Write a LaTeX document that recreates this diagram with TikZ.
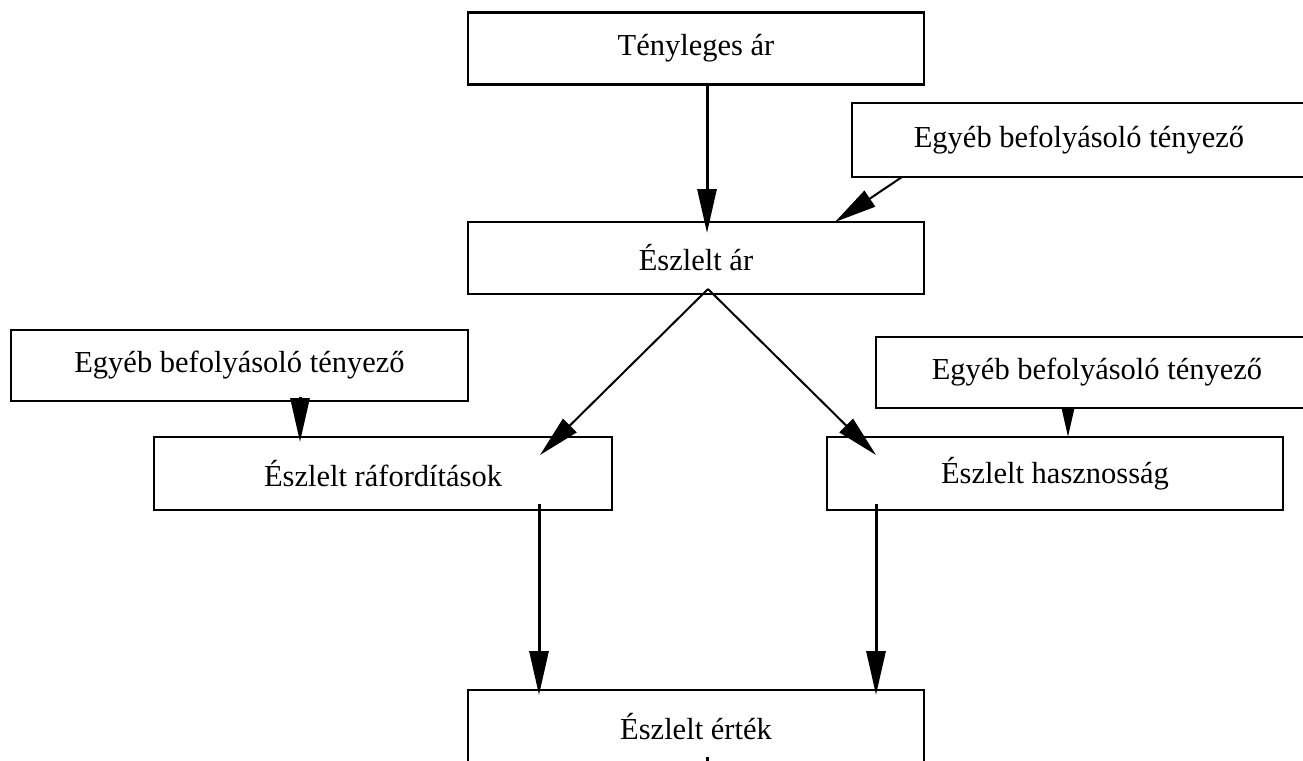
\documentclass[tikz,border=0pt]{standalone}
\usepackage{fontspec}
\setmainfont{Liberation Serif}
\usetikzlibrary{arrows.meta,positioning,calc}
\pgfdeclarelayer{back}
\pgfsetlayers{back,main}

\begin{document}
\begin{tikzpicture}[x=1pt,y=-1pt,
    doboz/.style={draw,rectangle,fill=white,line width=2.2pt,minimum width=456pt,
      minimum height=72pt,inner sep=0pt,outer sep=0pt,font=\fontsize{30.5}{36}\selectfont},
    vastag/.style={line width=3pt,-{Triangle[length=44pt,width=19pt]}},
    vekony/.style={line width=2pt,-{Triangle[length=42pt,width=19pt]}}]

  \useasboundingbox (0,0) rectangle (1303,760);
  \clip (0,0) rectangle (1303,760);

  \node [doboz] at(696,48.5) (tenyleges_ar) {Tényleges ár};
  \node [doboz,minimum width=454pt,minimum height=74pt] at(1079,140) (egyeb_top) {Egyéb befolyásoló tényező};
  \node [doboz] at(696,258) (eszlelt_ar) {Észlelt ár};

  \node [doboz,minimum width=457pt,minimum height=71pt] at(239.5,365.5) (egyeb_left) {Egyéb befolyásoló tényező};
  \node [doboz,minimum width=442pt,minimum height=71pt] at(1097,372.5) (egyeb_right) {Egyéb befolyásoló tényező};

  \node [doboz,minimum width=458pt,minimum height=73pt] at(383,473.5) (eszlelt_raf) {Észlelt ráfordítások};
  \node [doboz,minimum height=73pt] at(1055,473.5) (eszlelt_haszn) {Észlelt hasznosság};

  \node [doboz,minimum height=73pt] at(696,726.5) (eszlelt_ertek) {Észlelt érték};

  % arrows
  \draw[vastag] ([xshift=11pt]tenyleges_ar.south) -- ([xshift=11pt,yshift=-11pt]eszlelt_ar.north);
  \draw[vekony] ([xshift=50pt]egyeb_top.south west) -- ([xshift=-89pt]eszlelt_ar.north east);

  \draw[vekony] ([xshift=12pt,yshift=5pt]eszlelt_ar.south) -- ([xshift=-72pt,yshift=-18pt]eszlelt_raf.north east);
  \draw[vekony] ([xshift=12pt,yshift=5pt]eszlelt_ar.south) -- ([xshift=49pt,yshift=-18pt]eszlelt_haszn.north west);

  \draw[vastag] ([xshift=289pt,yshift=4pt]egyeb_left.south west) -- ([xshift=146pt,yshift=-5pt]eszlelt_raf.north west);
  \begin{pgfonlayer}{back}
    \draw[vastag] ([xshift=192pt]egyeb_right.south west) -- ([xshift=241pt]eszlelt_haszn.north west);
  \end{pgfonlayer}

  \draw[vastag] ([xshift=156pt,yshift=6pt]eszlelt_raf.south) -- ([xshift=71pt,yshift=-5pt]eszlelt_ertek.north west);
  \draw[vastag] ([xshift=49pt,yshift=6pt]eszlelt_haszn.south west) -- ([xshift=-48pt,yshift=-5pt]eszlelt_ertek.north east);

  \coordinate (tovabb) at ([xshift=11pt,yshift=-30pt]eszlelt_ertek.south);
  \draw[line width=3pt] ([xshift=11pt,yshift=6pt]eszlelt_ertek.south) -- (tovabb);

\end{tikzpicture}
\end{document}
